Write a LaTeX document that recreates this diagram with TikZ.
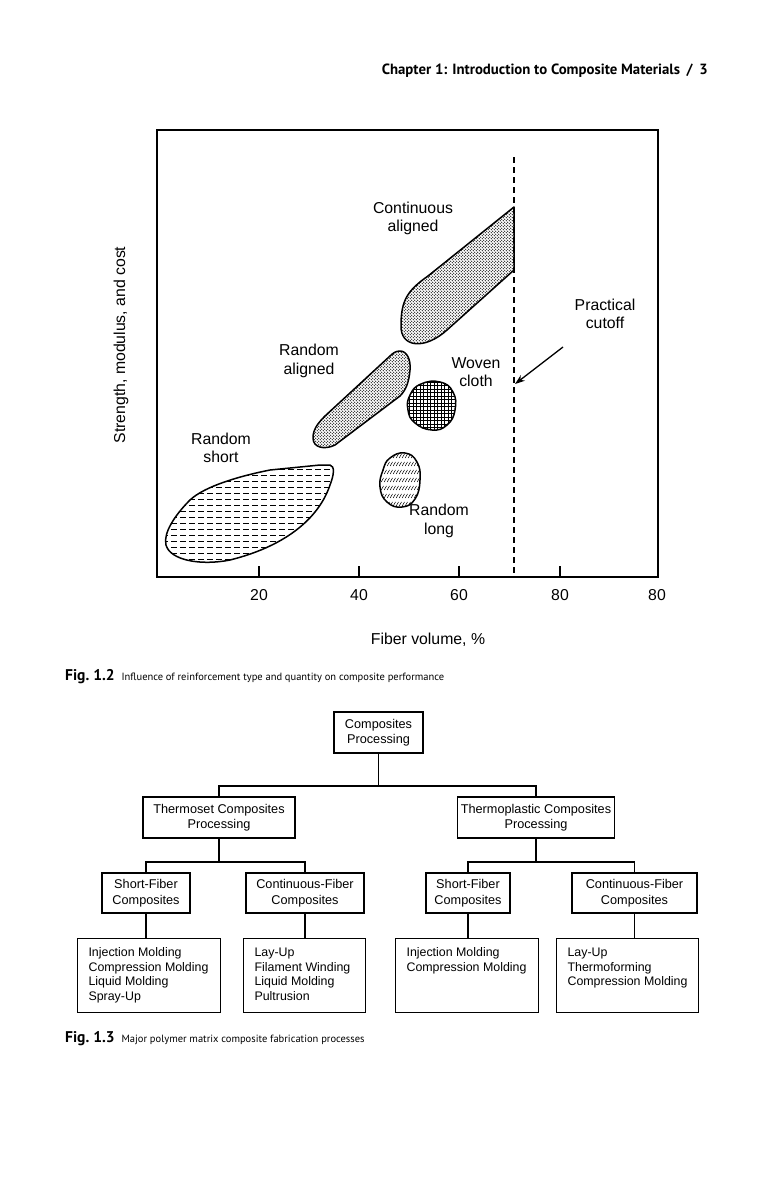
\documentclass[tikz,border=0pt]{standalone}
\usepackage{fontspec}
\setmainfont{Liberation Sans}
\newfontfamily\ptsans{PT Sans}
\usetikzlibrary{patterns,arrows.meta}

\pgfdeclarepatternformonly{stipple}{\pgfpoint{-1pt}{-1pt}}{\pgfpoint{4pt}{4pt}}{\pgfpoint{3pt}{3pt}}{%
  \pgfpathcircle{\pgfpoint{0.75pt}{0.75pt}}{0.62pt}%
  \pgfpathcircle{\pgfpoint{2.25pt}{2.25pt}}{0.62pt}%
  \pgfusepath{fill}}
\pgfdeclarepatternformonly{hdash}{\pgfpoint{-1pt}{-1pt}}{\pgfpoint{10pt}{7pt}}{\pgfpoint{9pt}{6pt}}{%
  \pgfsetlinewidth{0.6pt}%
  \pgfpathmoveto{\pgfpoint{0pt}{3pt}}\pgfpathlineto{\pgfpoint{6pt}{3pt}}%
  \pgfusepath{stroke}}
\pgfdeclarepatternformonly{slashes}{\pgfpoint{-1pt}{-1pt}}{\pgfpoint{4pt}{9pt}}{\pgfpoint{3pt}{8pt}}{%
  \pgfsetlinewidth{0.5pt}%
  \pgfpathmoveto{\pgfpoint{0.2pt}{2pt}}\pgfpathlineto{\pgfpoint{2.5pt}{6pt}}%
  \pgfusepath{stroke}}
\pgfdeclarepatternformonly{wgrid}{\pgfpoint{-1pt}{-1pt}}{\pgfpoint{4.5pt}{4.5pt}}{\pgfpoint{3.5pt}{3.5pt}}{%
  \pgfsetlinewidth{0.5pt}%
  \pgfpathmoveto{\pgfpoint{0pt}{0pt}}\pgfpathlineto{\pgfpoint{3.5pt}{0pt}}%
  \pgfpathmoveto{\pgfpoint{0pt}{0pt}}\pgfpathlineto{\pgfpoint{0pt}{3.5pt}}%
  \pgfusepath{stroke}}

\newcommand{\listcell}[2]{\parbox[c][74pt][t]{#1}{\raggedright\leftskip=11pt\rule{0pt}{18pt}#2}}

\tikzset{
  lbl/.style={font=\fontsize{15.8}{18.5}\selectfont, align=center, inner sep=0pt},
  box/.style={draw, line width=1.1pt, font=\fontsize{12.7}{15.5}\selectfont, align=center, inner sep=0pt},
  lst/.style={draw, line width=1.1pt, font=\fontsize{12.4}{14.7}\selectfont, inner sep=0pt, anchor=north west},
  conn/.style={line width=1.1pt},
  blob/.style={line width=1.5pt, line join=round},
}

\begin{document}
\begin{tikzpicture}[x=1pt, y=-1pt]
\fill[white] (0,0) rectangle (777,1180);
\useasboundingbox (0,0) rectangle (777,1180);

% header
\node[anchor=base east, inner sep=0pt, font=\ptsans\bfseries\fontsize{14.8}{17}\selectfont] (hdr) at (708,75)
  {Chapter 1: Introduction to Composite Materials\hspace{0.45em}/\hspace{0.45em}3};

% ---------- Fig 1.2 chart ----------
\draw[line width=2.5pt] (157,130) rectangle (658,577);
\foreach \x in {259,359,459,560} \draw[line width=1.3pt] (\x,577) -- (\x,566);
\node[lbl] (t20) at (259,595) {20};
\node[lbl] (t40) at (359,595) {40};
\node[lbl] (t60) at (459,595) {60};
\node[lbl] (t80) at (560,595) {80};
\node[lbl] (t80b) at (657,595) {80};
\node[lbl] (xlab) at (428,640) {Fiber volume, \%};
\node[lbl, rotate=90] (ylab) at (121,345) {Strength, modulus, and cost};

% practical cutoff line
\draw[line width=1.3pt, dash pattern=on 6pt off 4pt] (514,157) -- (514,577);

% continuous aligned
\draw[blob, pattern=stipple] (514,207) -- (514,270) -- (447,330)
  .. controls (425,350) and (400,348) .. (401,325)
  .. controls (401,300) and (408,290) .. (428,276) -- cycle;
% random aligned
\draw[blob, pattern=stipple] (400,351) .. controls (407,351) and (411,360) .. (410,370)
  .. controls (409,382) and (406,390) .. (400,396) -- (335,445)
  .. controls (325,450) and (313,448) .. (313,438)
  .. controls (313,430) and (317,424) .. (325,416) -- (390,356)
  .. controls (393,353) and (396,351) .. (400,351) -- cycle;
% woven cloth
\draw[blob, pattern=wgrid] plot[smooth cycle, tension=0.8] coordinates
  {(410,395) (421,384) (440,382) (453,392) (455,410) (447,425) (432,430) (415,423) (408,410)};
% random long
\draw[blob, pattern=slashes] plot[smooth cycle, tension=0.8] coordinates
  {(390,458) (405,453) (417,462) (420,480) (415,499) (402,507) (387,502) (380,487) (383,470)};
% random short
\draw[blob, pattern=hdash] (330,465) .. controls (335,466) and (334,475) .. (330,485)
  .. controls (320,515) and (290,545) .. (230,560)
  .. controls (200,566) and (170,560) .. (166,545)
  .. controls (163,533) and (175,515) .. (190,500)
  .. controls (205,486) and (240,476) .. (270,470) -- (320,465) -- cycle;

% labels
\node[lbl] (lca) at (413,218.5) {Continuous\\aligned};
\node[lbl] (lra) at (309,361) {Random\\aligned};
\node[lbl] (lwc) at (476,372) {Woven\\cloth};
\node[lbl] (lrs) at (221,448) {Random\\short};
\node[lbl] (lrl) at (439,521) {Random\\long};
\node[lbl] (lpc) at (605,314) {Practical\\cutoff};
\coordinate (arrtail) at (563,347);
\coordinate (arrhead) at (515,384);
\draw[line width=1.3pt, -{Stealth[length=10pt,width=7pt]}] (arrtail) -- (arrhead);

% caption 1.2
\node[anchor=base west, inner sep=0pt] (cap2) at (65,680)
  {{\ptsans\bfseries\fontsize{15.5}{18}\selectfont Fig.~1.2}\hspace{7pt}{\ptsans\fontsize{10.5}{12}\selectfont Influence of reinforcement type and quantity on composite performance}};

% ---------- Fig 1.3 tree ----------
\node[box, minimum width=89pt, minimum height=41pt] (cp) at (378.5,732.5) {Composites\\Processing};
\node[box, minimum width=152pt, minimum height=41pt] (ts) at (219,817.5) {Thermoset Composites\\Processing};
\node[box, minimum width=157pt, minimum height=41pt] (tp) at (536,817.5) {Thermoplastic Composites\\Processing};

\node[box, minimum width=88pt, minimum height=40pt] (s1) at (146,893) {Short-Fiber\\Composites};
\node[box, minimum width=118pt, minimum height=40pt] (c1) at (305,893) {Continuous-Fiber\\Composites};
\node[box, minimum width=84pt, minimum height=40pt] (s2) at (468,893) {Short-Fiber\\Composites};
\node[box, minimum width=125pt, minimum height=40pt] (c2) at (634.5,893) {Continuous-Fiber\\Composites};

\node[lst] (b1) at (77,938) {\listcell{143pt}{Injection Molding\\Compression Molding\\Liquid Molding\\Spray-Up}};
\node[lst] (b2) at (243,938) {\listcell{122pt}{Lay-Up\\Filament Winding\\Liquid Molding\\Pultrusion}};
\node[lst] (b3) at (395,938) {\listcell{143pt}{Injection Molding\\Compression Molding}};
\node[lst] (b4) at (556,938) {\listcell{142pt}{Lay-Up\\Thermoforming\\Compression Molding}};

\coordinate (bus1) at (378.5,786);
\coordinate (bus2) at (219,862);
\coordinate (bus3) at (536,862);
\draw[conn] (cp.south) -- (bus1);
\draw[conn] (ts.north) |- (bus1) -| (tp.north);
\draw[conn] (ts.south) -- (bus2);
\draw[conn] (s1.north) |- (bus2) -| (c1.north);
\draw[conn] (tp.south) -- (bus3);
\draw[conn] (s2.north) |- (bus3) -| (c2.north);
\draw[conn] (s1.south) -- (s1.south |- b1.north);
\draw[conn] (c1.south) -- (c1.south |- b2.north);
\draw[conn] (s2.south) -- (s2.south |- b3.north);
\draw[conn] (c2.south) -- (c2.south |- b4.north);

% caption 1.3
\node[anchor=base west, inner sep=0pt] (cap3) at (65,1042)
  {{\ptsans\bfseries\fontsize{15.5}{18}\selectfont Fig.~1.3}\hspace{7pt}{\ptsans\fontsize{10.5}{12}\selectfont Major polymer matrix composite fabrication processes}};
\end{tikzpicture}
\end{document}
